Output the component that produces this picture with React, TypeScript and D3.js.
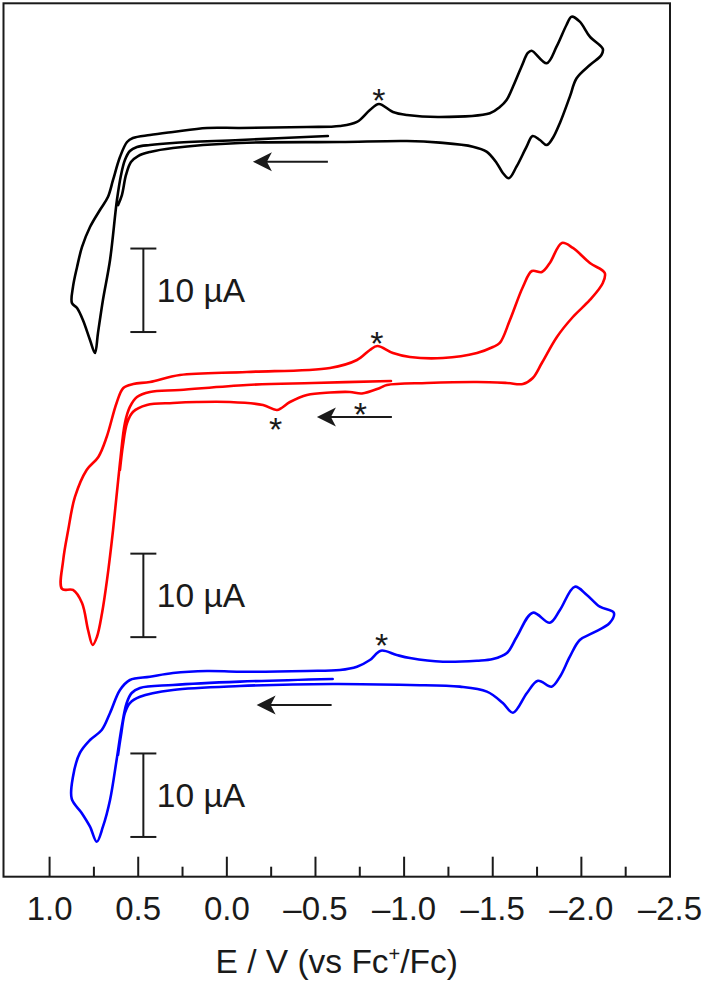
import React from "react";
import * as d3 from "d3";

const W = 708;
const H = 987;

// axis
const xMajorTicks = [1.0, 0.5, 0.0, -0.5, -1.0, -1.5, -2.0, -2.5];
const xMajorLabels = ["1.0", "0.5", "0.0", "\u20130.5", "\u20131.0", "\u20131.5", "\u20132.0", "\u20132.5"];
const xMinorTicks = [0.75, 0.25, -0.25, -0.75, -1.25, -1.75, -2.25];
const xDomain = [1.26, -2.5];
const yDomain = [0, 104.6]; // µA (stacked)

// black CV (E / V, I / µA, cathodic up)
const blackE = [-0.570, -0.074, 0.304, 0.434, 0.507, 0.547, 0.575, 0.597, 0.620, 0.659, 0.699, 0.727, 0.744, 0.772, 0.812, 0.845, 0.874,
  0.868, 0.845, 0.817, 0.772, 0.716, 0.671, 0.642, 0.603, 0.563, 0.530, 0.434, 0.304, 0.112, -0.074, -0.452, -0.638, -0.734, -0.807, -0.858, -0.937, -1.016, -1.202,
  -1.484, -1.540, -1.578, -1.614, -1.662, -1.698, -1.719, -1.804, -1.860, -1.916, -1.945, -1.991, -2.048, -2.121,
  -2.113, -2.048, -1.973, -1.935, -1.879, -1.839, -1.804, -1.766, -1.725, -1.691, -1.634, -1.591, -1.557, -1.522, -1.465, -1.388, -1.202,
  -1.016, -0.638, -0.074, 0.304, 0.434, 0.501, 0.541, 0.569, 0.592, 0.614];
const blackI = [0.48, 0.0, -0.36, -0.60, -0.84, -1.32, -2.40, -4.19, -7.19, -14.37, -19.16, -23.11, -25.51, -23.95, -21.56, -20.12, -19.52,
  -17.60, -15.21, -12.81, -10.42, -8.38, -6.83, -4.79, -2.04, -0.24, 0.24, 0.60, 0.96, 1.44, 1.44, 1.56, 1.68, 2.16, 3.59, 4.31, 3.35, 2.99, 2.75,
  3.20, 3.95, 4.79, 6.38, 8.78, 10.42, 10.69, 9.19, 11.17, 13.77, 14.77, 14.17, 12.37, 10.90,
  10.18, 8.98, 7.39, 5.19, 2.04, 0.24, -0.60, 0.0, 0.48, -0.80, -3.20, -4.59, -3.95, -2.75, -1.40, -0.80, -0.32,
  -0.12, -0.24, -0.36, -0.96, -1.44, -1.92, -2.63, -4.19, -6.59, -7.80];

// red CV
const redE = [-0.926, -0.486, -0.113, 0.265, 0.434, 0.507, 0.547, 0.575, 0.603, 0.642, 0.676, 0.704, 0.733, 0.757, 0.783, 0.817, 0.868, 0.930,
  0.923, 0.895, 0.857, 0.791, 0.725, 0.678, 0.622, 0.584, 0.528, 0.434, 0.265, -0.113, -0.582, -0.734, -0.807, -0.849, -0.937, -1.033, -1.219,
  -1.411, -1.501, -1.540, -1.597, -1.670, -1.721, -1.777, -1.822, -1.890, -1.952, -2.048, -2.132,
  -2.121, -2.048, -1.952, -1.862, -1.777, -1.726, -1.670, -1.580, -1.411, -1.128, -0.903, -0.863, -0.762, -0.694, -0.582, -0.452, -0.356,
  -0.283, -0.204, -0.017, 0.169, 0.304, 0.451, 0.530, 0.563, 0.586, 0.603];
const redI = [0.48, 0.24, 0.0, -0.60, -0.84, -1.44, -2.63, -4.55, -9.34, -17.37, -23.35, -27.31, -30.18, -31.14, -29.34, -26.11, -24.55, -24.43,
  -20.96, -17.37, -13.41, -10.18, -8.62, -6.23, -2.16, -0.36, 0.12, 0.36, 1.20, 1.56, 2.04, 2.99, 4.19, 4.67, 3.83, 3.35, 3.23,
  3.83, 4.55, 5.03, 7.78, 11.74, 13.65, 13.53, 14.61, 17.01, 16.41, 14.61, 13.41,
  12.22, 10.18, 8.14, 5.75, 2.63, 0.84, 0.12, 0.24, 0.36, 0.24, 0.0, -0.36, -1.02, -0.84, -0.90, -1.20, -2.04,
  -2.99, -2.40, -2.04, -2.04, -2.16, -2.40, -3.23, -4.55, -7.19, -10.18];

// blue CV
const blueE = [-0.597, -0.074, 0.304, 0.490, 0.537, 0.565, 0.593, 0.622, 0.659, 0.699, 0.734, 0.772, 0.819, 0.875,
  0.868, 0.829, 0.772, 0.706, 0.659, 0.603, 0.547, 0.434, 0.304, 0.112, -0.074, -0.452, -0.638, -0.734, -0.807, -0.869, -0.958, -1.033, -1.219,
  -1.411, -1.501, -1.580, -1.636, -1.726, -1.822, -1.879, -1.963, -2.031, -2.104, -2.183,
  -2.160, -2.065, -1.991, -1.935, -1.879, -1.832, -1.755, -1.693, -1.614, -1.557, -1.467, -1.315, -1.033,
  -0.597, -0.074, 0.304, 0.490, 0.547, 0.575, 0.597, 0.614];
const blueI = [0.72, 0.40, 0.0, -0.36, -0.96, -2.16, -4.99, -8.98, -13.77, -16.97, -18.77, -16.97, -15.33, -13.65,
  -10.98, -8.14, -6.59, -5.39, -3.35, -0.60, 0.60, 0.99, 1.44, 1.68, 1.59, 1.68, 1.80, 2.19, 2.99, 4.11, 3.59, 3.23, 2.79,
  2.91, 3.11, 3.83, 5.78, 8.66, 7.46, 8.98, 11.77, 10.78, 9.38, 8.66,
  7.43, 6.23, 5.39, 3.39, 0.99, -0.20, 0.51, -0.96, -3.32, -2.16, -0.80, -0.20, 0.0,
  0.12, -0.12, -0.60, -1.40, -2.16, -3.35, -5.99, -8.38];

// vertical offsets of each trace in the stacked µA scale
const traceNames = ["black", "red", "blue"];
const traceColors = ["#000000", "#ff0000", "#0000ff"];
const traceOffsets = [88.23, 58.89, 22.96];

// annotations (per trace): arrow [E start, E end, I]
const arrowStartE = [-0.570, -0.931, -0.591];
const arrowEndE = [-0.147, -0.508, -0.168];
const arrowI = [-2.60, -3.83, -2.40];
// asterisks: trace index, E, I
const starTrace = [0, 1, 1, 1, 2];
const starE = [-0.858, -0.846, -0.753, -0.275, -0.873];
const starI = [5.63, 5.87, -2.63, -4.43, 5.63];
// scale bars: E position, bottom I, length µA
const barE = 0.471;
const barBottomI = [-23.0, -30.2, -18.2];
const barLength = 10;
const barLabel = "10 \u00b5A";

const FONT = "'Liberation Sans', Arial, Helvetica, sans-serif";
const INK = "#1a1a1a";

export default function App() {
  const x = d3.scaleLinear().domain(xDomain).range([3.5, 670]);
  const y = d3.scaleLinear().domain(yDomain).range([876.7, 3.3]);

  const traces = [
    blackE.map((e, i) => [e, blackI[i]]),
    redE.map((e, i) => [e, redI[i]]),
    blueE.map((e, i) => [e, blueI[i]]),
  ];

  const lineFor = (k: number) =>
    d3
      .line<number[]>()
      .x((d) => x(d[0]))
      .y((d) => y(d[1] + traceOffsets[k]))
      .curve(d3.curveCatmullRom.alpha(0.5));

  const x0 = x(xDomain[0]);
  const x1 = x(xDomain[1]);
  const yTop = y(yDomain[1]);
  const yBot = y(yDomain[0]);

  return (
    <svg
      width={W}
      height={H}
      style={{ position: "absolute", left: 0, top: 0, background: "#fff" }}
      fontFamily={FONT}
    >
      <rect x={0} y={0} width={W} height={H} fill="#fff" />
      {/* traces */}
      {traces.map((pts, k) => (
        <path
          key={traceNames[k]}
          d={lineFor(k)(pts) || ""}
          fill="none"
          stroke={traceColors[k]}
          strokeWidth={2.6}
          strokeLinejoin="round"
          strokeLinecap="round"
        />
      ))}

      {/* arrows */}
      {arrowStartE.map((e0, k) => {
        const xs = x(e0);
        const xe = x(arrowEndE[k]);
        const yy = y(arrowI[k] + traceOffsets[k]);
        return (
          <g key={"ar" + k}>
            <line x1={xs} y1={yy} x2={xe + 10} y2={yy} stroke={INK} strokeWidth={2} />
            <path
              d={`M${xe},${yy} L${xe + 19},${yy - 9.5} L${xe + 14},${yy} L${xe + 19},${yy + 9.5} Z`}
              fill={INK}
            />
          </g>
        );
      })}

      {/* asterisks */}
      {starE.map((e, i) => (
        <text
          key={"st" + i}
          x={x(e)}
          y={y(starI[i] + traceOffsets[starTrace[i]]) + 19}
          textAnchor="middle"
          fontSize={34}
          fill={INK}
        >
          *
        </text>
      ))}

      {/* scale bars */}
      {barBottomI.map((b, k) => {
        const bx = x(barE);
        const yb = y(b + traceOffsets[k]);
        const yt = y(b + barLength + traceOffsets[k]);
        return (
          <g key={"sb" + k}>
            <line x1={bx} y1={yt} x2={bx} y2={yb} stroke={INK} strokeWidth={2} />
            <line x1={bx - 13} y1={yt} x2={bx + 13} y2={yt} stroke={INK} strokeWidth={2} />
            <line x1={bx - 13} y1={yb} x2={bx + 13} y2={yb} stroke={INK} strokeWidth={2} />
            <text x={bx + 13.5} y={yb - 30} fontSize={33.5} fill={INK}>
              {barLabel}
            </text>
          </g>
        );
      })}

      {/* frame */}
      <rect
        x={x0}
        y={yTop}
        width={x1 - x0}
        height={yBot - yTop}
        fill="none"
        stroke={INK}
        strokeWidth={2}
      />

      {/* ticks */}
      {xMajorTicks.map((t, i) => (
        <g key={"mj" + i}>
          <line x1={x(t)} x2={x(t)} y1={yBot} y2={yBot - 20} stroke={INK} strokeWidth={2} />
          <text x={x(t)} y={yBot + 43.5} textAnchor="middle" fontSize={33} fill={INK}>
            {xMajorLabels[i]}
          </text>
        </g>
      ))}
      {xMinorTicks.map((t, i) => (
        <line key={"mn" + i} x1={x(t)} x2={x(t)} y1={yBot} y2={yBot - 10} stroke={INK} strokeWidth={2} />
      ))}

      {/* axis title */}
      <text x={(x0 + x1) / 2} y={yBot + 96} textAnchor="middle" fontSize={33.5} fill={INK}>
        E / V (vs Fc
        <tspan dy={-12} fontSize={20}>
          +
        </tspan>
        <tspan dy={12}>/Fc)</tspan>
      </text>
    </svg>
  );
}
